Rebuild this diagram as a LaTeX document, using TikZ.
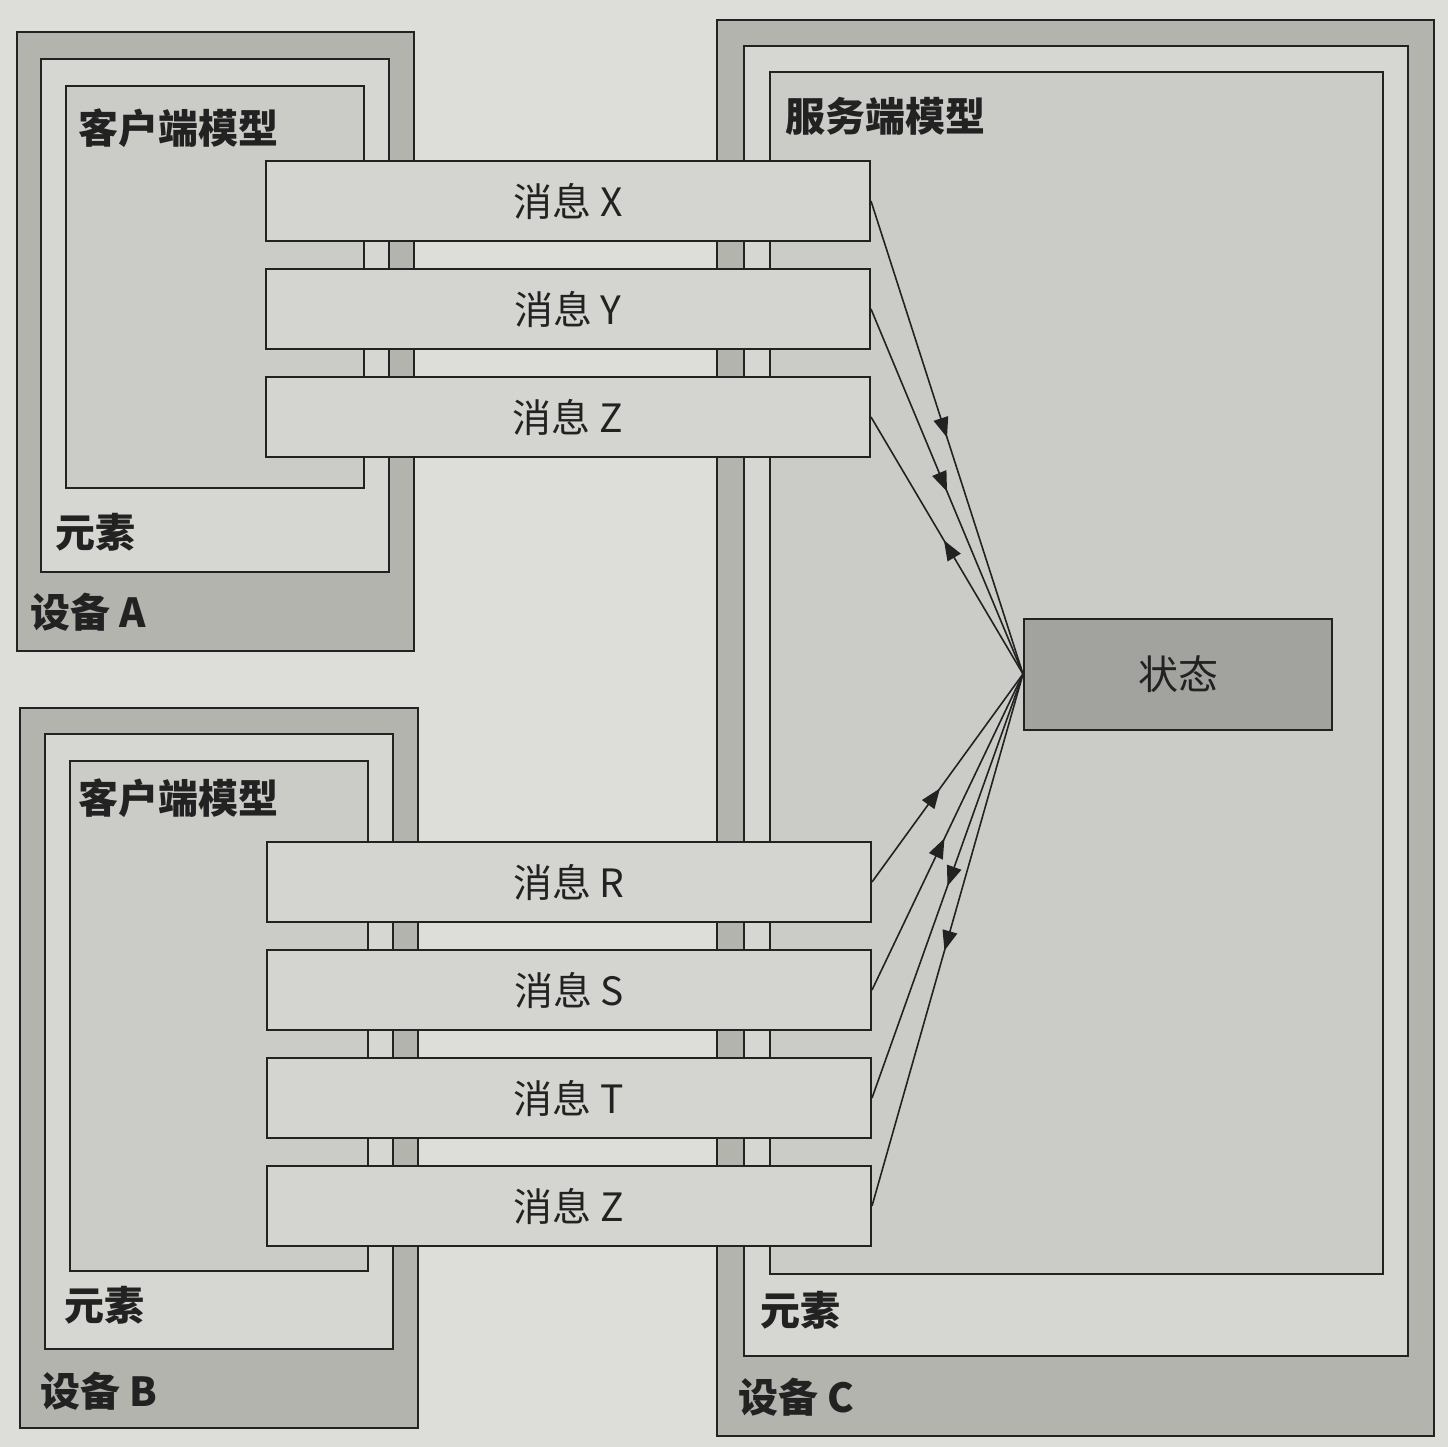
\documentclass[tikz,border=0pt]{standalone}
\usepackage{fontspec}
\setmainfont{Noto Sans CJK SC}
\usetikzlibrary{arrows.meta,decorations.markings}
\definecolor{paper}{HTML}{DDDDD9}
\definecolor{devband}{HTML}{B4B4AF}
\definecolor{elemband}{HTML}{D6D6D2}
\definecolor{modelfill}{HTML}{CBCBC7}
\definecolor{msgfill}{HTML}{D4D4D0}
\definecolor{statefill}{HTML}{A2A29E}
\definecolor{ink}{HTML}{222222}
\tikzset{
  devbox/.style={draw=ink, line width=1pt, fill=devband},
  elembox/.style={draw=ink, line width=1pt, fill=elemband},
  modelbox/.style={draw=ink, line width=1pt, fill=modelfill},
  msgbox/.style={draw=ink, line width=1pt, fill=msgfill, minimum width=302pt, minimum height=40pt, inner sep=0pt, font=\fontsize{19.5pt}{22pt}\selectfont, text=ink},
  statebox/.style={draw=ink, line width=1pt, fill=statefill, minimum width=154pt, minimum height=55.5pt, inner sep=0pt, font=\fontsize{20pt}{23pt}\selectfont, text=ink},
  boxlabel/.style={anchor=west, inner sep=0pt, font=\bfseries\fontsize{20pt}{23pt}\selectfont, text=ink},
  conn/.style={draw=ink, line width=0.8pt},
  tipfwd/.style={postaction={decorate, decoration={markings, mark=at position #1 with {\arrow{Triangle[length=10pt,width=7.5pt]}}}}},
  tiprev/.style={postaction={decorate, decoration={markings, mark=at position #1 with {\arrowreversed{Triangle[length=10pt,width=7.5pt]}}}}},
}
\begin{document}
\begin{tikzpicture}[x=0.5pt, y=-0.5pt]
\useasboundingbox (0,0) rectangle (1448,1447);
\fill[paper] (0,0) rectangle (1448,1447);

% Device A
\draw[devbox] (17,32) rectangle (414,651);
\draw[elembox] (41,59) rectangle (389,572);
\draw[modelbox] (66,86) rectangle (364,488);
\node[boxlabel] (lA1) at (78,128) {客户端模型};
\node[boxlabel] (lA2) at (55,532) {元素};
\node[boxlabel] (lA3) at (30,612) {设备 A};

% Device B
\draw[devbox] (20,708) rectangle (418,1428);
\draw[elembox] (45,734) rectangle (393,1349);
\draw[modelbox] (70,761) rectangle (368,1271);
\node[boxlabel] (lB1) at (78,798) {客户端模型};
\node[boxlabel] (lB2) at (64,1305) {元素};
\node[boxlabel] (lB3) at (40,1391) {设备 B};

% Device C
\draw[devbox] (717,20) rectangle (1434,1436);
\draw[elembox] (744,46) rectangle (1408,1356);
\draw[modelbox] (770,72) rectangle (1383,1274);
\node[boxlabel] (lC1) at (785,116) {服务端模型};
\node[boxlabel] (lC2) at (760,1310) {元素};
\node[boxlabel] (lC3) at (738,1397) {设备 C};

% Messages
\node[msgbox] (mx) at (568,201) {消息 X};
\node[msgbox] (my) at (568,309) {消息 Y};
\node[msgbox] (mz) at (568,417) {消息 Z};
\node[msgbox] (mr) at (569,882) {消息 R};
\node[msgbox] (ms) at (569,990) {消息 S};
\node[msgbox] (mt) at (569,1098) {消息 T};
\node[msgbox] (mz2) at (569,1206) {消息 Z};

% State
\node[statebox] (st) at (1178,674) {状态};

% Connectors
\draw[conn, tipfwd=0.5] (mx.east) -- (st.west);
\draw[conn, tipfwd=0.5] (my.east) -- (st.west);
\draw[conn, tiprev=0.48] (mz.east) -- (st.west);
\draw[conn, tipfwd=0.45] (mr.east) -- (st.west);
\draw[conn, tipfwd=0.48] (ms.east) -- (st.west);
\draw[conn, tiprev=0.5] (mt.east) -- (st.west);
\draw[conn, tiprev=0.48] (mz2.east) -- (st.west);
\end{tikzpicture}
\end{document}
